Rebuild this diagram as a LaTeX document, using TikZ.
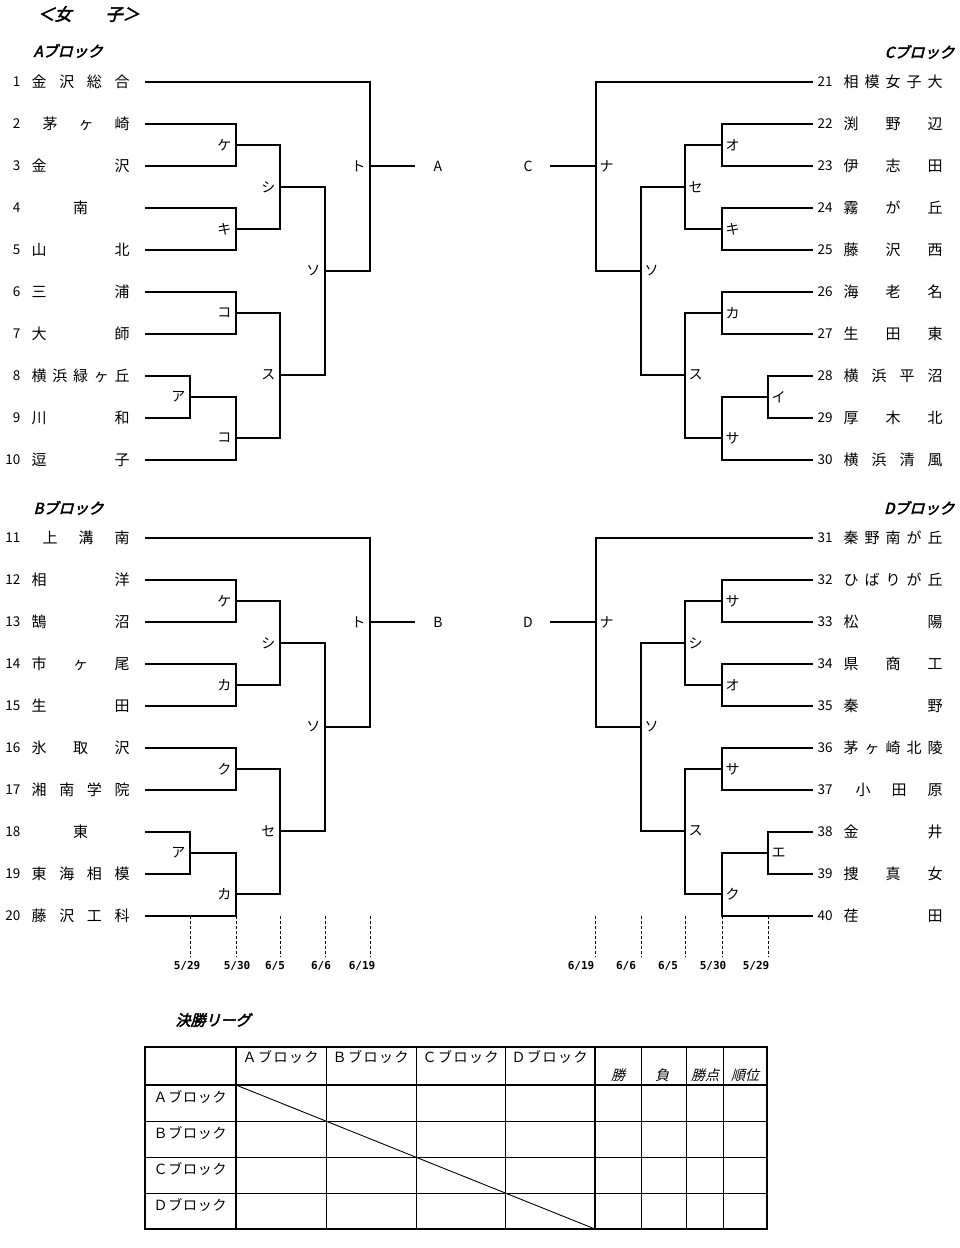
\documentclass[tikz,border=0pt]{standalone}
\usepackage{fontspec}
\setmainfont{Noto Sans CJK JP}
\newfontfamily\jpbold[FakeBold=3,FakeSlant=0.25]{Noto Sans CJK JP}
\newfontfamily\jpslant[FakeSlant=0.25]{Noto Sans CJK JP}
\newfontfamily\datefont{DejaVu Sans Mono}
\newcommand{\spreadtext}[2]{\makebox[#1pt][s]{#2}}

\begin{document}
\begin{tikzpicture}[x=1pt,y=-1pt,line width=1.2pt,
  team/.style={anchor=west,inner sep=0pt,font=\fontsize{15}{15}\selectfont},
  lnum/.style={anchor=east,inner sep=0pt,font=\fontsize{13.5}{13.5}\selectfont},
  rnum/.style={anchor=west,inner sep=0pt,font=\fontsize{13.5}{13.5}\selectfont},
  llbl/.style={anchor=east,inner sep=0pt,xshift=-4pt,font=\fontsize{14}{14}\selectfont},
  rlbl/.style={anchor=west,inner sep=0pt,xshift=3pt,font=\fontsize{14}{14}\selectfont},
  winlbl/.style={inner sep=0pt,font=\fontsize{14}{14}\selectfont},
  blkname/.style={inner sep=0pt,font=\jpbold\fontsize{15}{15}\selectfont},
  dateline/.style={line width=0.8pt,dash pattern=on 3pt off 2pt},
  datelbl/.style={inner sep=0pt,font=\datefont\bfseries\fontsize{11}{11}\selectfont},
  tblthick/.style={line width=2.2pt},
  tblthin/.style={line width=0.9pt},
  cell/.style={anchor=west,inner sep=0pt,font=\fontsize{14}{14}\selectfont},
  cellit/.style={inner sep=0pt,font=\jpslant\fontsize{14}{14}\selectfont}]
\useasboundingbox (0,0) rectangle (959,1248);

\node[blkname,anchor=west,font=\jpbold\fontsize{17}{17}\selectfont] (title) at (37,14) {＜女　　子＞};

% ---------- A / B ブロック（左） ----------
\node[blkname,anchor=west] (hA) at (33,51) {Aブロック};
\node[blkname,anchor=west] (hB) at (33,508) {Bブロック};
\foreach \blk/\dy in {a/0,b/456}{
\begin{scope}[yshift=-\dy pt]
  \foreach \i in {1,...,10}
    \coordinate (\blk\i) at (145,{82+42*(\i-1)});
  \coordinate (\blk P1) at (236,145);
  \coordinate (\blk P2) at (236,229);
  \coordinate (\blk P3) at (280,187);
  \coordinate (\blk P4) at (236,313);
  \coordinate (\blk P5) at (190,397);
  \coordinate (\blk P6) at (236,438);
  \coordinate (\blk P7) at (280,375);
  \coordinate (\blk P8) at (325,271);
  \coordinate (\blk P9) at (370,166);
  \coordinate (\blk W) at (415,166);
  \draw (\blk2) -| (\blk P1) |- (\blk3);
  \draw (\blk4) -| (\blk P2) |- (\blk5);
  \draw (\blk P1) -| (\blk P3) |- (\blk P2);
  \draw (\blk6) -| (\blk P4) |- (\blk7);
  \draw (\blk8) -| (\blk P5) |- (\blk9);
  \draw (\blk P5) -| (\blk P6) |- (\blk10);
  \draw (\blk P4) -| (\blk P7) |- (\blk P6);
  \draw (\blk P3) -| (\blk P8) |- (\blk P7);
  \draw (\blk1) -| (\blk P9) |- (\blk P8);
  \draw (\blk P9) -- (\blk W);
\end{scope}
}
\foreach \j/\t in {P1/ケ,P2/キ,P3/シ,P4/コ,P5/ア,P6/コ,P7/ス,P8/ソ,P9/ト}
  \node[llbl] (a\j t) at (a\j) {\t};
\foreach \j/\t in {P1/ケ,P2/カ,P3/シ,P4/ク,P5/ア,P6/カ,P7/セ,P8/ソ,P9/ト}
  \node[llbl] (b\j t) at (b\j) {\t};
\node[winlbl] (wA) at (438,166) {A};
\node[winlbl] (wB) at (438,622) {B};

\foreach \i/\t in {1/金\hfill 沢\hfill 総\hfill 合,
    2/\hspace*{11pt}茅\hfill ヶ\hfill 崎,
    3/金\hfill 沢, 4/\hfill 南\hfill\hbox{}, 5/山\hfill 北,
    6/三\hfill 浦, 7/大\hfill 師,
    8/横\hfill 浜\hfill 緑\hfill ヶ\hfill 丘,
    9/川\hfill 和, 10/逗\hfill 子}{
  \node[lnum] (na\i) at (21,{82+42*(\i-1)}) {\i};
  \node[team] (ta\i) at (31,{82+42*(\i-1)}) {\spreadtext{98}{\t}};
}
\foreach \i/\t in {11/\hspace*{11pt}上\hfill 溝\hfill 南,
    12/相\hfill 洋, 13/鵠\hfill 沼, 14/市\hfill ヶ\hfill 尾,
    15/生\hfill 田, 16/氷\hfill 取\hfill 沢,
    17/湘\hfill 南\hfill 学\hfill 院, 18/\hfill 東\hfill\hbox{},
    19/東\hfill 海\hfill 相\hfill 模,
    20/藤\hfill 沢\hfill 工\hfill 科}{
  \node[lnum] (nb\i) at (21,{538+42*(\i-11)}) {\i};
  \node[team] (tb\i) at (31,{538+42*(\i-11)}) {\spreadtext{98}{\t}};
}

% 日程（左）
\foreach \x/\lx/\m/\dd in {190/187/5/29,236/237/5/30,280/275/6/5,325/321/6/6,370/362/6/19}{
  \draw[dateline] (\x,916) -- (\x,957);
  \node[datelbl] (db\x) at (\lx,966) {\m/\dd};
}

% ---------- C / D ブロック（右） ----------
\node[blkname,anchor=east] (hC) at (955,52) {Cブロック};
\node[blkname,anchor=east] (hD) at (955,508) {Dブロック};
\foreach \blk/\dy in {c/0,d/456}{
\begin{scope}[yshift=-\dy pt]
  \foreach \i in {1,...,10}
    \coordinate (\blk\i) at (813,{82+42*(\i-1)});
  \coordinate (\blk P1) at (722,145);
  \coordinate (\blk P2) at (722,229);
  \coordinate (\blk P3) at (685,187);
  \coordinate (\blk P4) at (722,313);
  \coordinate (\blk P5) at (768,397);
  \coordinate (\blk P6) at (722,438);
  \coordinate (\blk P7) at (685,375);
  \coordinate (\blk P8) at (641,271);
  \coordinate (\blk P9) at (596,166);
  \coordinate (\blk W) at (550,166);
  \draw (\blk2) -| (\blk P1) |- (\blk3);
  \draw (\blk4) -| (\blk P2) |- (\blk5);
  \draw (\blk P1) -| (\blk P3) |- (\blk P2);
  \draw (\blk6) -| (\blk P4) |- (\blk7);
  \draw (\blk8) -| (\blk P5) |- (\blk9);
  \draw (\blk P5) -| (\blk P6) |- (\blk10);
  \draw (\blk P4) -| (\blk P7) |- (\blk P6);
  \draw (\blk P3) -| (\blk P8) |- (\blk P7);
  \draw (\blk1) -| (\blk P9) |- (\blk P8);
  \draw (\blk P9) -- (\blk W);
\end{scope}
}
\foreach \j/\t in {P1/オ,P2/キ,P3/セ,P4/カ,P5/イ,P6/サ,P7/ス,P8/ソ,P9/ナ}
  \node[rlbl] (c\j t) at (c\j) {\t};
\foreach \j/\t in {P1/サ,P2/オ,P3/シ,P4/サ,P5/エ,P6/ク,P7/ス,P8/ソ,P9/ナ}
  \node[rlbl] (d\j t) at (d\j) {\t};
\node[winlbl] (wC) at (528,166) {C};
\node[winlbl] (wD) at (528,622) {D};

\foreach \i/\t in {21/相\hfill 模\hfill 女\hfill 子\hfill 大,
    22/渕\hfill 野\hfill 辺, 23/伊\hfill 志\hfill 田,
    24/霧\hfill が\hfill 丘, 25/藤\hfill 沢\hfill 西,
    26/海\hfill 老\hfill 名, 27/生\hfill 田\hfill 東,
    28/横\hfill 浜\hfill 平\hfill 沼, 29/厚\hfill 木\hfill 北,
    30/横\hfill 浜\hfill 清\hfill 風}{
  \node[rnum] (nc\i) at (817,{82+42*(\i-21)}) {\i};
  \node[team] (tc\i) at (843,{82+42*(\i-21)}) {\spreadtext{99}{\t}};
}
\foreach \i/\t in {31/秦\hfill 野\hfill 南\hfill が\hfill 丘,
    32/ひ\hfill ば\hfill り\hfill が\hfill 丘,
    33/松\hfill 陽, 34/県\hfill 商\hfill 工, 35/秦\hfill 野,
    36/茅\hfill ヶ\hfill 崎\hfill 北\hfill 陵,
    37/\hspace*{12pt}小\hfill 田\hfill 原,
    38/金\hfill 井, 39/捜\hfill 真\hfill 女, 40/荏\hfill 田}{
  \node[rnum] (nd\i) at (817,{538+42*(\i-31)}) {\i};
  \node[team] (td\i) at (843,{538+42*(\i-31)}) {\spreadtext{99}{\t}};
}

% 日程（右）
\foreach \x/\lx/\m/\dd in {595/581/6/19,641/626/6/6,685/668/6/5,722/713/5/30,768/756/5/29}{
  \draw[dateline] (\x,916) -- (\x,957);
  \node[datelbl] (dd\x) at (\lx,966) {\m/\dd};
}

% ---------- 決勝リーグ ----------
\node[blkname,anchor=west,font=\jpbold\fontsize{15}{15}\selectfont] (league) at (175,1020) {決勝リーグ};
\draw[tblthin] \foreach \y in {1121,1157,1193} {(145,\y) -- (767,\y)};
\draw[tblthin] \foreach \x in {326,416,505,641,686,723} {(\x,1047) -- (\x,1229)};
\draw[tblthin] (236,1085) -- (595,1229);
\draw[tblthick] (145,1047) rectangle (767,1229);
\draw[tblthick] (145,1085) -- (767,1085);
\draw[tblthick] \foreach \x in {236,595} {(\x,1047) -- (\x,1229)};
\foreach \c/\n/\x in {Ａ/a/242,Ｂ/b/332,Ｃ/c/422,Ｄ/d/511}
  \node[cell] (col\n) at (\x,1057) {\spreadtext{76}{\c\hfill ブ\hfill ロ\hfill ッ\hfill ク}};
\foreach \c/\n/\y in {Ａ/a/1097,Ｂ/b/1133,Ｃ/c/1169,Ｄ/d/1205}
  \node[cell] (row\n) at (153,\y) {\spreadtext{73}{\c\hfill ブ\hfill ロ\hfill ッ\hfill ク}};
\node[cellit] (win) at (618,1075) {勝};
\node[cellit] (lose) at (662,1075) {負};
\node[cellit] (pts) at (705,1075) {勝点};
\node[cellit] (rank) at (745,1075) {順位};
\end{tikzpicture}
\end{document}
